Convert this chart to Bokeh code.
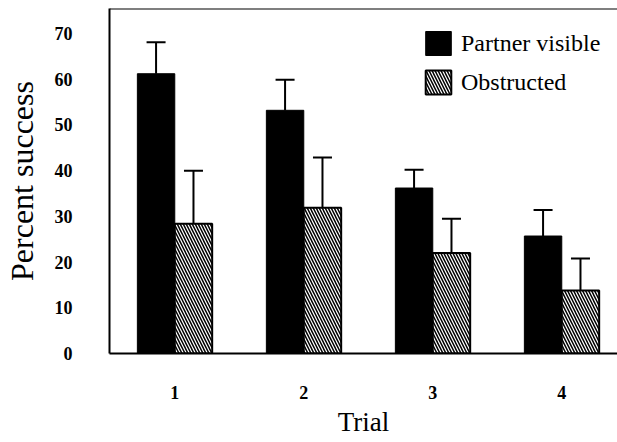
from bokeh.plotting import figure
from bokeh.models import (ColumnDataSource, Whisker, TeeHead, Span, Legend, LegendItem,
                          FixedTicker, Range1d)
from bokeh.transform import dodge
from bokeh.embed import file_html
from bokeh.resources import INLINE

trials = [1, 2, 3, 4]
tick_labels = ["1", "2", "3", "4"]
visible = [61.2, 53.2, 36.2, 25.7]
visible_err = [6.9, 6.7, 4.0, 5.7]
obstructed = [28.4, 31.9, 22.0, 13.8]
obstructed_err = [11.6, 11.0, 7.5, 7.0]
series_names = ["Partner visible", "Obstructed"]
y_ticks = [0, 10, 20, 30, 40, 50, 60, 70]

FONT = "Liberation Serif"
OFF = 0.145
W = 0.29
Y_TOP = 75.47

src = ColumnDataSource(dict(
    x=trials,
    vis=visible,
    vis_up=[v + e for v, e in zip(visible, visible_err)],
    obs=obstructed,
    obs_up=[v + e for v, e in zip(obstructed, obstructed_err)],
    xv=[t - OFF for t in trials],
    xo=[t + OFF for t in trials],
))

p = figure(width=617, height=442, output_backend="svg", toolbar_location=None,
           x_range=Range1d(0.494, 4.432), y_range=Range1d(0, Y_TOP),
           min_border_left=107, min_border_right=0, min_border_top=8, min_border_bottom=89)
p.outline_line_color = None
p.grid.grid_line_color = None
p.background_fill_color = "white"

r_vis = p.vbar(x=dodge("x", -OFF, range=p.x_range), top="vis", width=W, source=src,
               fill_color="black", line_color="black", line_width=1)
r_obs = p.vbar(x=dodge("x", OFF, range=p.x_range), top="obs", width=W, source=src,
               fill_color="white", line_color="black", line_width=2,
               hatch_pattern="\\", hatch_color="black", hatch_scale=6, hatch_weight=1.5)

for lo, up, base in (("vis", "vis_up", "xv"), ("obs", "obs_up", "xo")):
    wk = Whisker(source=src, base=base, lower=lo, upper=up, dimension="height",
                 line_color="black", line_width=2,
                 upper_head=TeeHead(size=19, line_width=2, line_color="black"),
                 lower_head=None)
    p.add_layout(wk)

p.add_layout(Span(location=Y_TOP, dimension="width", line_color="black", line_width=2))

p.xaxis.ticker = FixedTicker(ticks=trials)
p.xaxis.major_label_overrides = {t: s for t, s in zip(trials, tick_labels)}
p.yaxis.ticker = FixedTicker(ticks=y_ticks)
for ax in (p.xaxis, p.yaxis):
    ax.axis_line_width = 2
    ax.axis_line_color = "black"
    ax.major_tick_line_color = None
    ax.minor_tick_line_color = None
    ax.major_label_text_font = FONT
    ax.major_label_text_font_size = "18px"
    ax.major_label_text_font_style = "bold"
    ax.major_label_text_color = "black"
    ax.axis_label_text_font = FONT
    ax.axis_label_text_font_style = "normal"
    ax.axis_label_text_color = "black"
p.xaxis.major_tick_out = 0
p.yaxis.major_tick_out = 0
p.xaxis.major_label_standoff = 32
p.yaxis.major_label_standoff = 37
p.xaxis.axis_label = "Trial"
p.xaxis.axis_label_text_font_size = "27px"
p.xaxis.axis_label_standoff = 5
p.yaxis.axis_label = "Percent success"
p.yaxis.axis_label_text_font_size = "32px"
p.yaxis.axis_label_standoff = 12

legend = Legend(items=[LegendItem(label=series_names[0], renderers=[r_vis]),
                       LegendItem(label=series_names[1], renderers=[r_obs])],
                location=(313, 256), orientation="vertical",
                glyph_width=32, glyph_height=30, spacing=9, padding=0, margin=0,
                label_standoff=7, label_text_font=FONT, label_text_font_size="24px",
                label_text_color="black", border_line_color=None,
                background_fill_alpha=0)
p.add_layout(legend)

open("out.html", "w").write(file_html(p, INLINE))
